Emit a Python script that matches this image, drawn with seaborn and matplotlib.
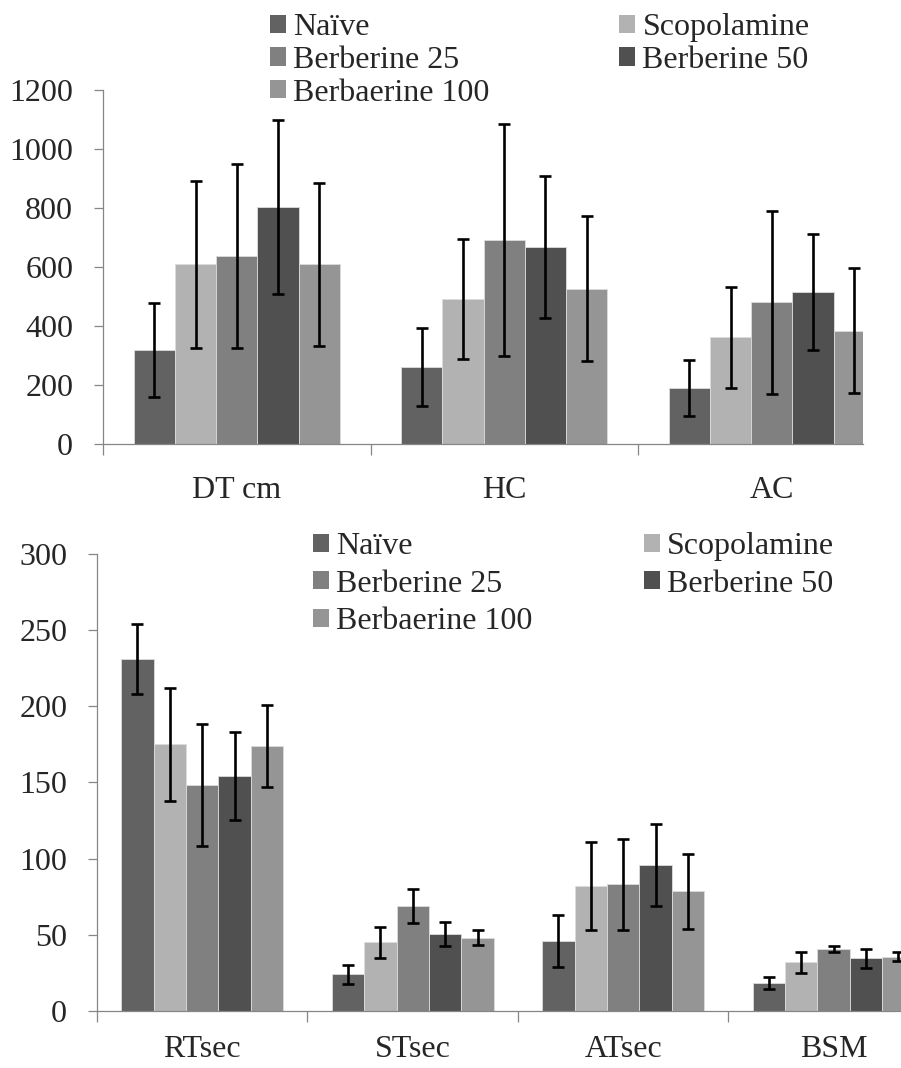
import numpy as np
import pandas as pd
import matplotlib.pyplot as plt
import seaborn as sns
from matplotlib.patches import Patch

# Groups and colours
groups = ["Naïve", "Scopolamine", "Berberine 25", "Berberine 50", "Berbaerine 100"]
colors = ["#626262", "#b2b2b2", "#808080", "#505050", "#959595"]

# Top panel (rows follow groups)
top_tests = ["DT cm", "HC", "AC"]
top_means = [
    [318, 261, 188],
    [608, 491, 361],
    [636, 691, 480],
    [804, 668, 514],
    [608, 526, 383],
]
top_errs = [
    [160, 133, 95],
    [283, 205, 172],
    [312, 393, 311],
    [295, 240, 196],
    [275, 246, 212],
]

# Bottom panel
bot_tests = ["RTsec", "STsec", "ATsec", "BSM"]
bot_means = [
    [231, 24, 46, 18.5],
    [175, 45, 82, 32],
    [148, 69, 83, 40.5],
    [154, 50.5, 96, 34.5],
    [174, 48, 78.5, 35.5],
]
bot_errs = [
    [23, 6, 17, 4],
    [37, 10, 29, 7],
    [40, 11, 30, 2],
    [29, 8, 27, 6],
    [27, 5, 24.5, 3],
]

sns.set_style("white")
plt.rcParams["font.family"] = "serif"
plt.rcParams["font.serif"] = ["Liberation Serif", "DejaVu Serif"]

FS = 23
AXIS_GREY = "#868686"


def draw_panel(ax, tests, means, errs, ymax, ystep, xmax, label_pad):
    rows = []
    for g, m_row, e_row in zip(groups, means, errs):
        for t, m, e in zip(tests, m_row, e_row):
            rows.append((g, t, m, e))
    df = pd.DataFrame(rows, columns=["group", "test", "mean", "err"])

    sns.barplot(
        data=df, x="test", y="mean", hue="group",
        order=tests, hue_order=groups, palette=colors,
        width=0.77, errorbar=None, legend=False, saturation=1,
        edgecolor="#dcdcdc", linewidth=0.6, ax=ax,
    )

    # error bars from the drawn bars (one container per group)
    bar_conts = list(ax.containers)
    for gi, cont in enumerate(bar_conts):
        xs, ys, es = [], [], []
        for bar in cont:
            xc = bar.get_x() + bar.get_width() / 2
            ti = int(round(xc))
            xs.append(xc)
            ys.append(bar.get_height())
            es.append(errs[gi][ti])
        ax.errorbar(xs, ys, yerr=es, fmt="none", ecolor="black",
                    elinewidth=1.9, capsize=4.5, capthick=1.9, zorder=5)

    ax.set_xlim(-0.5, xmax)
    ax.set_ylim(0, ymax)
    ax.set_yticks(np.arange(0, ymax + 1, ystep))
    ax.set_yticklabels([str(v) for v in np.arange(0, ymax + 1, ystep)], fontsize=FS)

    seps = np.arange(len(tests)) - 0.5
    ax.set_xticks(seps)
    ax.set_xticklabels([""] * len(seps))
    ax.set_xticks(np.arange(len(tests)), tests, minor=True, fontsize=FS)

    ax.set_xlabel("")
    ax.set_ylabel("")
    for s in ["top", "right"]:
        ax.spines[s].set_visible(False)
    for s in ["left", "bottom"]:
        ax.spines[s].set_color(AXIS_GREY)
        ax.spines[s].set_linewidth(0.9)
    ax.tick_params(axis="y", direction="out", length=6.5, width=0.9,
                   color=AXIS_GREY, pad=15, left=True)
    ax.tick_params(axis="x", which="major", direction="out", length=8,
                   width=0.9, color=AXIS_GREY, bottom=True)
    ax.tick_params(axis="x", which="minor", length=0, pad=label_pad)


def add_legend(fig, x_px, y_px, spacing, colspace):
    handles = [Patch(facecolor=c, edgecolor="none") for c in colors]
    order = [0, 2, 4, 1, 3]
    fig.legend(
        [handles[i] for i in order], [groups[i] for i in order],
        ncol=2, loc="upper left",
        bbox_to_anchor=(x_px / 901, 1 - y_px / 1068),
        frameon=False, fontsize=FS,
        handlelength=0.5, handleheight=0.5, handletextpad=0.22,
        labelspacing=spacing, columnspacing=colspace,
        borderpad=0, borderaxespad=0,
    )


fig = plt.figure(figsize=(9.01, 10.68), dpi=100)
ax1 = fig.add_axes([103 / 901, 1 - 443.7 / 1068, (862.7 - 103) / 901, (443.7 - 90) / 1068])
ax2 = fig.add_axes([97 / 901, 1 - 1011 / 1068, (901 - 97) / 901, (1011 - 553.7) / 1068])

draw_panel(ax1, top_tests, top_means, top_errs, 1200, 200, 2.34, 23)
draw_panel(ax2, bot_tests, bot_means, bot_errs, 300, 50, 3.32, 17)

add_legend(fig, 270, 13, 0.12, 4.07)
add_legend(fig, 313, 532, 0.27, 3.49)

fig.savefig("out.png", dpi=100)
